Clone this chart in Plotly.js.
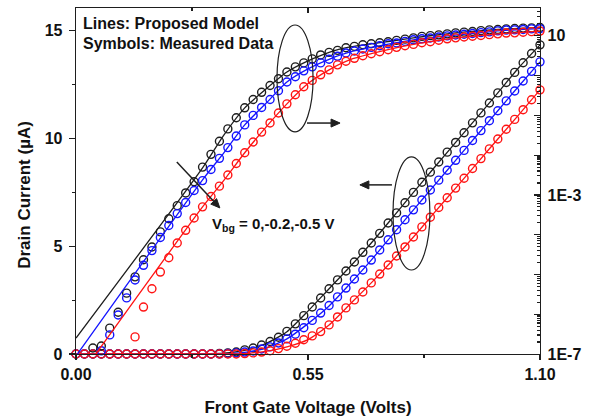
<!DOCTYPE html>
<html>
<head>
<meta charset="utf-8">
<script src="https://cdn.plot.ly/plotly-3.0.1.min.js"></script>
<style>html,body{margin:0;padding:0;background:#fff;}#chart{width:592px;height:420px;}</style>
</head>
<body>
<div id="chart"></div>
<script>
// Gate voltage grid of the measured symbols (V)
const vg = [0.00,0.02,0.04,0.06,0.08,0.10,0.12,0.14,0.16,0.18,0.20,0.22,0.24,0.26,0.28,0.30,0.32,0.34,0.36,0.38,
            0.40,0.42,0.44,0.46,0.48,0.50,0.52,0.54,0.56,0.58,0.60,0.62,0.64,0.66,0.68,0.70,0.72,0.74,0.76,0.78,
            0.80,0.82,0.84,0.86,0.88,0.90,0.92,0.94,0.96,0.98,1.00,1.02,1.04,1.06,1.08,1.10];

// Measured drain current, log scale (right axis), given as log10(I / uA)
const logMeasBlack = [null,null,-6.85,-6.80,-6.35,-5.95,-5.47,-5.06,-4.63,-4.31,-3.93,-3.60,-3.27,-2.95,-2.67,-2.30,-1.98,-1.65,-1.34,-1.06,
  -0.81,-0.60,-0.42,-0.25,-0.08,0.09,0.22,0.32,0.42,0.52,0.585,0.635,0.70,0.735,0.775,0.80,0.825,0.85,0.887,0.917,
  0.95,0.987,1.005,1.025,1.05,1.075,1.093,1.11,1.13,1.15,1.16,1.175,1.185,1.195,1.20,1.21];
const logMeasBlue = [null,null,null,-6.92,-6.52,-6.02,-5.59,-5.14,-4.77,-4.40,-4.07,-3.77,-3.47,-3.19,-2.89,-2.64,-2.36,-2.08,-1.81,-1.52,
  -1.24,-1.00,-0.80,-0.60,-0.38,-0.16,-0.03,0.12,0.22,0.32,0.41,0.485,0.57,0.62,0.67,0.71,0.75,0.80,0.82,0.86,
  0.90,0.925,0.945,0.97,1.00,1.02,1.04,1.06,1.08,1.10,1.125,1.145,1.15,1.16,1.175,1.18];
const logMeasRed = [null,null,null,null,null,null,null,-6.57,-5.82,-5.36,-4.94,-4.58,-4.21,-3.89,-3.58,-3.30,-3.04,-2.78,-2.50,-2.21,
  -1.94,-1.67,-1.42,-1.19,-0.94,-0.71,-0.48,-0.28,-0.12,0.02,0.145,0.27,0.36,0.435,0.50,0.55,0.60,0.65,0.71,0.75,
  0.785,0.825,0.85,0.89,0.925,0.95,0.97,0.99,1.01,1.03,1.05,1.07,1.075,1.09,1.105,1.12];

// Measured drain current, linear scale (left axis), uA
const linMeasBlack = [0,0,0,0,0,0,0,0,0,0,0,0,0,0,0,0,0,0.03,0.05,0.09,
  0.19,0.28,0.42,0.58,0.78,1.05,1.40,1.78,2.18,2.60,3.03,3.44,3.85,4.27,4.72,5.15,5.60,6.08,6.55,7.02,
  7.50,7.97,8.44,8.91,9.37,9.82,10.27,10.73,11.19,11.65,12.12,12.60,13.07,13.52,13.95,14.35];
const linMeasBlue = [0,0,0,0,0,0,0,0,0,0,0,0,0,0,0,0,0,0,0.02,0.05,
  0.09,0.14,0.23,0.33,0.51,0.70,0.92,1.22,1.56,1.90,2.25,2.65,3.06,3.48,3.90,4.36,4.83,5.30,5.77,6.23,
  6.69,7.15,7.61,8.07,8.53,8.99,9.45,9.91,10.37,10.83,11.29,11.75,12.21,12.67,13.12,13.56];
const linMeasRed = [0,0,0,0,0,0,0,0,0,0,0,0,0,0,0,0,0,0,0,0,
  0.02,0.05,0.09,0.15,0.25,0.36,0.50,0.66,0.84,1.04,1.35,1.72,2.14,2.51,2.88,3.30,3.71,4.13,4.55,4.97,
  5.43,5.90,6.35,6.80,7.25,7.70,8.16,8.61,9.07,9.52,9.98,10.43,10.89,11.34,11.80,12.26];

// Proposed model (lines), log scale, log10(I / uA)
const logModelXBlack = [0.00,0.30,0.35,0.40,0.45,0.50,0.55,0.60,0.65,0.70,0.75,0.80,0.85,0.90,0.95,1.00,1.05,1.10];
const logModelBlack  = [-6.60,-2.32,-1.50,-0.81,-0.34,0.09,0.37,0.585,0.72,0.80,0.87,0.95,1.015,1.075,1.12,1.16,1.19,1.21];
const logModelXBlue  = [0.00,0.30,0.35,0.40,0.45,0.50,0.55,0.60,0.65,0.70,0.75,0.80,0.85,0.90,0.95,1.00,1.05,1.10];
const logModelBlue   = [-7.05,-2.62,-1.95,-1.24,-0.70,-0.16,0.17,0.41,0.595,0.71,0.81,0.90,0.96,1.02,1.07,1.125,1.155,1.18];
const logModelXRed   = [0.047,0.30,0.35,0.40,0.45,0.50,0.55,0.60,0.65,0.70,0.75,0.80,0.85,0.90,0.95,1.00,1.05,1.10];
const logModelRed    = [-7.00,-3.30,-2.64,-1.94,-1.30,-0.71,-0.20,0.145,0.40,0.55,0.68,0.785,0.87,0.95,1.00,1.05,1.08,1.12];

// Proposed model (lines), linear scale, uA
const linModelX     = [0.00,0.30,0.35,0.40,0.45,0.50,0.55,0.60,0.65,0.70,0.75,0.80,0.85,0.90,0.95,1.00,1.05,1.10];
const linModelBlack = [0,0.01,0.04,0.17,0.48,1.03,1.99,3.03,4.06,5.15,6.32,7.50,8.67,9.82,10.96,12.12,13.30,14.35];
const linModelBlue  = [0,0,0.01,0.08,0.27,0.70,1.41,2.23,3.27,4.36,5.53,6.69,7.84,8.99,10.14,11.29,12.44,13.56];
const linModelRed   = [0,0,0,0.02,0.12,0.33,0.67,1.35,2.32,3.30,4.34,5.43,6.57,7.70,8.84,9.98,11.11,12.26];

// Right-axis labels
const logLabelVals = [1e-7,1e-3,10];
const logLabelText = ['1E-7','1E-3','10'];
const logDecades   = [1e-7,1e-6,1e-5,1e-4,1e-3,1e-2,1e-1,1,10];

const FONT = 'Liberation Sans, Arial, Helvetica, sans-serif';
const COL = {black:'#1e1e1e', blue:'#1414ff', red:'#ff1414'};
const exp10 = a => a.map(v => v === null ? null : Math.pow(10, v));

function meas(x, y, color, axis) {
  return {x:x, y:y, yaxis:axis, type:'scatter', mode:'markers', cliponaxis:false, hoverinfo:'skip',
          marker:{symbol:'circle-open', size:8, color:color, line:{width:1.4, color:color}}};
}
function model(x, y, color, axis) {
  return {x:x, y:y, yaxis:axis, type:'scatter', mode:'lines', hoverinfo:'skip',
          line:{color:color, width:1.3, shape:'spline', smoothing:0.6}};
}

const traces = [
  meas(vg, exp10(logMeasBlack), COL.black, 'y2'), model(logModelXBlack, exp10(logModelBlack), COL.black, 'y2'),
  meas(vg, exp10(logMeasBlue), COL.blue, 'y2'),   model(logModelXBlue, exp10(logModelBlue), COL.blue, 'y2'),
  meas(vg, exp10(logMeasRed), COL.red, 'y2'),     model(logModelXRed, exp10(logModelRed), COL.red, 'y2'),
  meas(vg, linMeasBlack, COL.black, 'y'), model(linModelX, linModelBlack, COL.black, 'y'),
  meas(vg, linMeasBlue, COL.blue, 'y'),   model(linModelX, linModelBlue, COL.blue, 'y'),
  meas(vg, linMeasRed, COL.red, 'y'),     model(linModelX, linModelRed, COL.red, 'y'),
  {x:[], y:[], xaxis:'x2', yaxis:'y', type:'scatter', mode:'markers', hoverinfo:'skip'},
  {x:[], y:[], xaxis:'x', yaxis:'y3', type:'scatter', mode:'markers', hoverinfo:'skip'},
  {x:[], y:[], xaxis:'x', yaxis:'y4', type:'scatter', mode:'markers', hoverinfo:'skip'}
];

const minorLog = [];
for (let d = -7; d <= 1; d++) for (let k = 2; k <= 9; k++) { const v = k * Math.pow(10, d); if (v < 50) minorLog.push(v); }

// plot-area geometry (for arrow heads drawn as shapes in axis units)
const PL = 76, PW = 464, PB = 354, PH = 346, XR = 1.1, YR = 16.06;
const toPx = (x, y) => [PL + x / XR * PW, PB - y / YR * PH];
const toData = (px, py) => [(px - PL) / PW * XR, (PB - py) / PH * YR];
function arrow(x0, y0, x1, y1) {
  const [a0, b0] = toPx(x0, y0), [a1, b1] = toPx(x1, y1);
  const L = Math.hypot(a1 - a0, b1 - b0), ux = (a1 - a0) / L, uy = (b1 - b0) / L;
  const hl = 9, hw = 4;
  const bx = a1 - ux * hl, by = b1 - uy * hl;
  const p1 = toData(bx - uy * hw, by + ux * hw), p2 = toData(bx + uy * hw, by - ux * hw), pb = toData(bx, by);
  return [
    {type:'line', xref:'x', yref:'y', x0:x0, y0:y0, x1:pb[0], y1:pb[1], line:{color:'#1e1e1e', width:1.5}},
    {type:'path', xref:'x', yref:'y', path:`M${x1},${y1} L${p1[0]},${p1[1]} L${p2[0]},${p2[1]} Z`,
     fillcolor:'#1e1e1e', line:{color:'#1e1e1e', width:1}}
  ];
}

const AX = '#1e1e1e';
const tickFont = {family:FONT, size:16, color:'#111', weight:'bold'};
const layout = {
  width:592, height:420,
  margin:{l:76, r:52, t:8, b:66},
  paper_bgcolor:'#ffffff', plot_bgcolor:'#ffffff',
  showlegend:false,
  font:{family:FONT, color:'#111'},
  xaxis:{range:[0,1.1], tick0:0, dtick:0.55, tickformat:'.2f', ticks:'outside', ticklen:5, tickwidth:1.3, tickcolor:AX,
         minor:{tick0:0, dtick:0.275, ticks:'outside', ticklen:3, tickwidth:1.2, tickcolor:AX, showgrid:false},
         showline:true, linecolor:AX, linewidth:1.3, showgrid:false, zeroline:false, tickfont:tickFont,
         title:{text:'<b>Front Gate Voltage (Volts)</b>', font:{family:FONT, size:17, color:'#111'}, standoff:19}},
  xaxis2:{overlaying:'x', side:'top', anchor:'y', range:[0,1.1], tick0:0, dtick:0.55, ticks:'inside', ticklen:5, tickwidth:1.3, tickcolor:AX,
          minor:{tick0:0, dtick:0.275, ticks:'inside', ticklen:3, tickwidth:1.2, tickcolor:AX, showgrid:false},
          showticklabels:false, showline:true, linecolor:AX, linewidth:1.3, showgrid:false, zeroline:false},
  yaxis:{range:[0,16.06], tick0:0, dtick:5, ticks:'outside', ticklen:6, tickwidth:1.3, tickcolor:AX,
         minor:{tick0:0, dtick:2.5, ticks:'outside', ticklen:3, tickwidth:1.2, tickcolor:AX, showgrid:false},
         showline:true, linecolor:AX, linewidth:1.3, showgrid:false, zeroline:false, tickfont:tickFont, ticklabelstandoff:3},
  yaxis2:{type:'log', overlaying:'y', side:'right', anchor:'x', range:[-7,1.70], tickmode:'array', tickvals:logLabelVals, ticktext:logLabelText,
          ticks:'inside', ticklen:6, tickwidth:1.3, tickcolor:AX, showline:true, linecolor:AX, linewidth:1.3,
          showgrid:false, zeroline:false, tickfont:tickFont, ticklabelstandoff:3},
  yaxis3:{type:'log', overlaying:'y', side:'right', anchor:'x', range:[-7,1.70], tickmode:'array', tickvals:minorLog,
          ticks:'inside', ticklen:3, tickwidth:1.1, tickcolor:AX, showticklabels:false, showline:false, showgrid:false, zeroline:false},
  yaxis4:{type:'log', overlaying:'y', side:'right', anchor:'x', range:[-7,1.70], tickmode:'array', tickvals:logDecades,
          ticks:'inside', ticklen:6, tickwidth:1.3, tickcolor:AX, showticklabels:false, showline:false, showgrid:false, zeroline:false},
  shapes:[
    {type:'circle', xref:'x', yref:'y', x0:0.4765, x1:0.562, y0:10.31, y1:15.27, line:{color:AX, width:1.2}},
    {type:'circle', xref:'x', yref:'y', x0:0.7515, x1:0.839, y0:3.90, y1:9.15, line:{color:AX, width:1.2}},
    ...arrow(0.5476, 10.72, 0.626, 10.72),
    ...arrow(0.749, 7.85, 0.673, 7.85),
    ...arrow(0.239, 8.91, 0.341, 6.78)
  ],
  annotations:[
    {text:'<b>Lines: Proposed Model</b>', xref:'paper', yref:'paper', x:0.011, y:0.954, xanchor:'left', yanchor:'middle', showarrow:false, font:{family:FONT, size:16, color:'#111'}},
    {text:'<b>Symbols: Measured Data</b>', xref:'paper', yref:'paper', x:0.011, y:0.896, xanchor:'left', yanchor:'middle', showarrow:false, font:{family:FONT, size:16, color:'#111'}},
    {text:'<b>V<sub>bg</sub> = 0,-0.2,-0.5 V</b>', xref:'paper', yref:'paper', x:0.289, y:0.375, xanchor:'left', yanchor:'middle', showarrow:false, font:{family:FONT, size:15, color:'#111'}},
    {text:'<b>Drain Current (µA)</b>', xref:'paper', yref:'paper', x:-0.110, y:0.46, xanchor:'center', yanchor:'middle', textangle:-90, showarrow:false, font:{family:FONT, size:17, color:'#111'}}
  ]
};

Plotly.newPlot('chart', traces, layout, {staticPlot:true, displayModeBar:false});
</script>
</body>
</html>
